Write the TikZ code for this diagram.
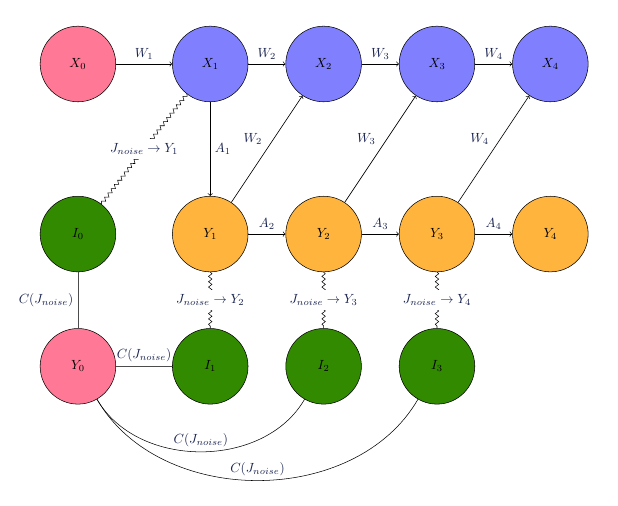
\documentclass[tikz,border=0pt]{standalone}
\usetikzlibrary{decorations.pathmorphing}
\definecolor{pinkc}{RGB}{255,120,150}
\definecolor{bluec}{RGB}{128,128,255}
\definecolor{orangec}{RGB}{255,180,62}
\definecolor{greenc}{RGB}{50,138,0}
\definecolor{labc}{RGB}{25,35,80}
\begin{document}
\begin{tikzpicture}[
  state/.style={circle, draw=black, minimum size=2cm, inner sep=0pt},
  pinknode/.style={state, fill=pinkc},
  bluenode/.style={state, fill=bluec},
  orangenode/.style={state, fill=orangec},
  greennode/.style={state, fill=greenc},
  lab/.style={auto, text=labc},
  arr/.style={->, line width=0.5pt},
  greyline/.style={draw=black!70, line width=0.5pt},
  noise/.style={decorate, decoration={snake, amplitude=1.3pt, segment length=4pt}},
  noiselab/.style={fill=white, text=labc}
]
\useasboundingbox (-2.063,-11.693) rectangle (14.29,1.693);
% top row
\node[pinknode] (X0) at (0,0) {$X_0$};
\node[bluenode] (X1) at (3.5,0) {$X_1$};
\node[bluenode] (X2) at (6.5,0) {$X_2$};
\node[bluenode] (X3) at (9.5,0) {$X_3$};
\node[bluenode] (X4) at (12.5,0) {$X_4$};
% middle row
\node[greennode] (I0) at (0,-4.5) {$I_0$};
\node[orangenode] (Y1) at (3.5,-4.5) {$Y_1$};
\node[orangenode] (Y2) at (6.5,-4.5) {$Y_2$};
\node[orangenode] (Y3) at (9.5,-4.5) {$Y_3$};
\node[orangenode] (Y4) at (12.5,-4.5) {$Y_4$};
% bottom row
\node[pinknode] (Y0) at (0,-8) {$Y_0$};
\node[greennode] (I1) at (3.5,-8) {$I_1$};
\node[greennode] (I2) at (6.5,-8) {$I_2$};
\node[greennode] (I3) at (9.5,-8) {$I_3$};
% top arrows
\draw[arr] (X0) -- node[lab] {$W_1$} (X1);
\draw[arr] (X1) -- node[lab] {$W_2$} (X2);
\draw[arr] (X2) -- node[lab] {$W_3$} (X3);
\draw[arr] (X3) -- node[lab] {$W_4$} (X4);
% vertical
\draw[arr] (X1) -- node[lab] {$A_1$} (Y1);
% diagonals
\draw[arr] (Y1) -- node[lab] {$W_2$} (X2);
\draw[arr] (Y2) -- node[lab] {$W_3$} (X3);
\draw[arr] (Y3) -- node[lab] {$W_4$} (X4);
% middle arrows
\draw[arr] (Y1) -- node[lab] {$A_2$} (Y2);
\draw[arr] (Y2) -- node[lab] {$A_3$} (Y3);
\draw[arr] (Y3) -- node[lab] {$A_4$} (Y4);
% noise
\draw[noise] (X1) -- node[noiselab] {$J_{noise}\to Y_1$} (I0);
\draw[noise] (Y1) -- node[noiselab] {$J_{noise}\to Y_2$} (I1);
\draw[noise] (Y2) -- node[noiselab] {$J_{noise}\to Y_3$} (I2);
\draw[noise] (Y3) -- node[noiselab] {$J_{noise}\to Y_4$} (I3);
% couplings
\draw[greyline] (Y0) -- node[lab] {$C(J_{noise})$} (I0);
\draw[greyline] (Y0) -- node[lab] {$C(J_{noise})$} (I1);
\draw (Y0) to[bend right=60] node[lab] {$C(J_{noise})$} (I2);
\draw (Y0) to[bend right=60] node[lab] {$C(J_{noise})$} (I3);
\end{tikzpicture}
\end{document}
